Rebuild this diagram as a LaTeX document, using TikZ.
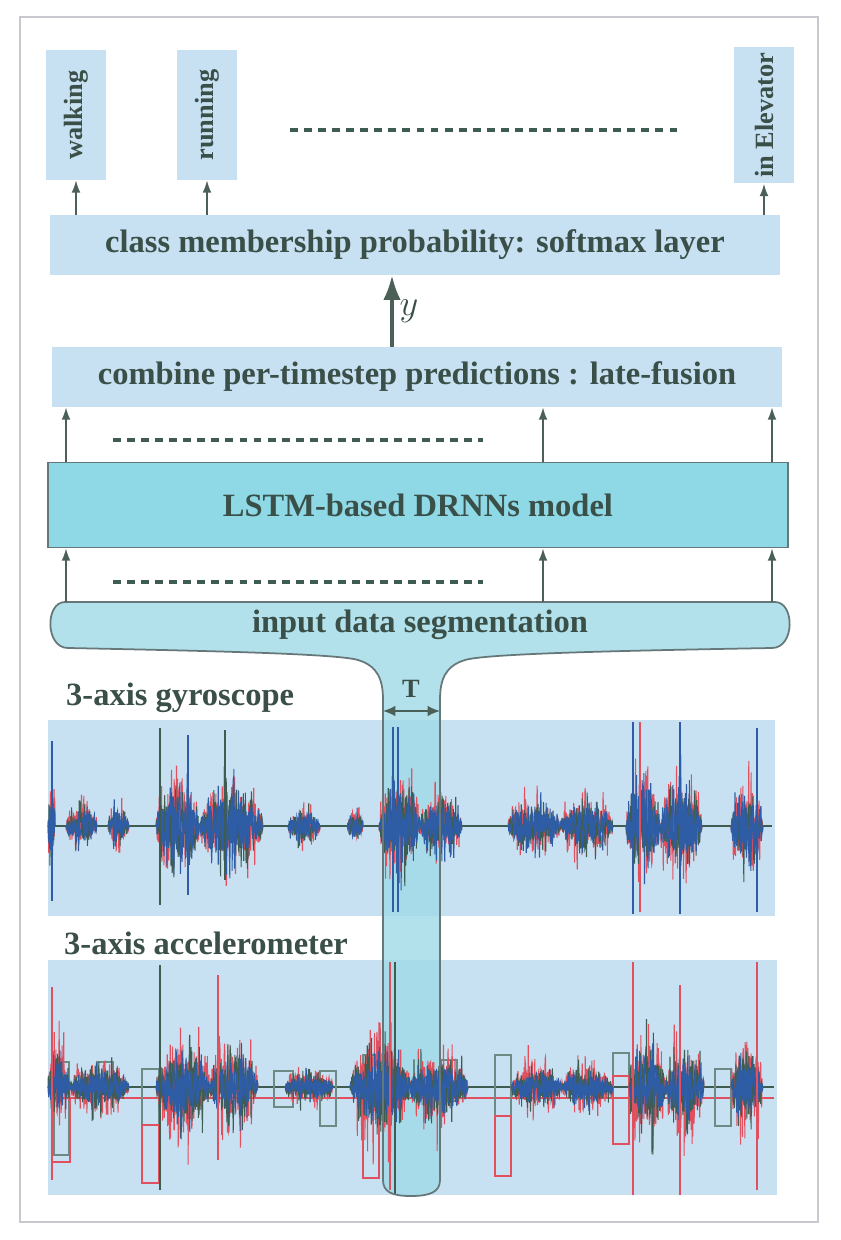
\documentclass[tikz,border=0pt]{standalone}
\usepackage{fontspec}
\setmainfont{Liberation Serif}
\usetikzlibrary{arrows.meta}

\definecolor{boxfill}{HTML}{C8E1F2}
\definecolor{lstmfill}{HTML}{8FD9E7}
\definecolor{segfill}{HTML}{9FDAE7}
\definecolor{edgec}{HTML}{66777A}
\definecolor{arrc}{HTML}{4B6158}
\definecolor{txtc}{HTML}{3A4F48}
\definecolor{sigred}{HTML}{E0505E}
\definecolor{sigblu}{HTML}{2E5DA6}
\definecolor{siggrn}{HTML}{3F5C50}
\definecolor{stepc}{HTML}{6E8A85}
\definecolor{framec}{HTML}{C8C8CE}

% one noisy burst: x0, x1, amplitude, baseline, colour
\newcommand{\burst}[5]{%
  \pgfmathtruncatemacro{\nsmp}{3*(#2-#1)+2}%
  \draw[#5, line width=0.6pt] plot[domain=#1:#2, samples=\nsmp]
    (\x, {#4 + #3*rand*(0.3+0.7*rnd*rnd)*sqrt(sin(((\x-#1)/(#2-#1))*180))});
}
% outline of the segmentation funnel
\newcommand{\segpath}{(65,602) -- (775,602) .. controls (795,602) and (795,648) .. (772,648)
  .. controls (600,651) and (485,654) .. (465,660)
  .. controls (445,666) and (440,680) .. (440,700) -- (440,1180)
  .. controls (440,1192) and (430,1196) .. (411,1196)
  .. controls (392,1196) and (383,1192) .. (383,1180) -- (383,700)
  .. controls (383,680) and (378,666) .. (358,660)
  .. controls (338,654) and (220,651) .. (68,648)
  .. controls (45,648) and (45,602) .. (65,602) -- cycle}

\begin{document}
\begin{tikzpicture}[x=0.02cm, y=-0.02cm,
  lab/.style={rectangle, fill=boxfill, minimum width=2.6cm, minimum height=1.2cm,
              rotate=90, text=txtc, font=\fontsize{15}{17}\selectfont\bfseries},
  layer/.style={rectangle, fill=boxfill, minimum width=14.6cm, minimum height=1.2cm,
                text=txtc, font=\fontsize{18.5}{22}\selectfont\bfseries},
  model/.style={rectangle, draw=edgec, line width=1pt, fill=lstmfill, minimum width=14.8cm,
                minimum height=1.7cm, text=txtc, font=\fontsize{18.5}{22}\selectfont\bfseries},
  title/.style={anchor=west, text=txtc, font=\fontsize{18.5}{22}\selectfont\bfseries},
  arr/.style={-{Latex[length=7pt,width=5pt]}, draw=arrc, fill=arrc, line width=0.9pt},
  bigarr/.style={-{Latex[length=14pt,width=10pt]}, draw=arrc, fill=arrc, line width=2pt},
  dots/.style={draw=siggrn, line width=2pt, dash pattern=on 4.5pt off 3.5pt}
]
\useasboundingbox (0,0) rectangle (840,1240);
\pgfmathsetseed{11}

% outer frame
\draw[framec, line width=1.2pt] (20,17) rectangle (818,1222);

% Output classes
\node[lab] (walk) at (76,115) {walking};
\node[lab] (run) at (207,115) {running};
\node[lab] (elev) at (764,115) {in Elevator};
\draw[dots] (290,130) -- (683,130);

% Layers
\node[layer] (smax) at (415,245) {class membership probability: softmax layer};
\node[layer] (fuse) at (417,377) {combine per-timestep predictions : late-fusion};
\node[model] (lstm) at (418,505) {LSTM-based DRNNs model};

% Sensor panels
\fill[boxfill] (48,720) rectangle (775,916);
\fill[boxfill] (48,960) rectangle (777,1195);
\node[title] (gyro) at (60,698) {3-axis gyroscope};
\node[title] (acc) at (58,943) {3-axis accelerometer};

% funnel fill under the traces
\fill[segfill, fill opacity=0.8] \segpath;

% gyroscope traces
\draw[siggrn, line width=0.6pt] (50,826) -- (772,826);
\foreach \a/\b/\h in {48/55/85, 66/97/45, 108/129/40, 156/200/100, 200/263/90,
                      288/320/35, 347/363/35, 379/420/95, 420/462/65,
                      508/560/55, 560/613/55, 626/660/100, 660/702/95, 731/763/90} {
  \burst{\a}{\b}{\h}{826}{sigred}
  \burst{\a}{\b}{0.8*\h}{826}{siggrn}
  \burst{\a}{\b}{0.85*\h}{826}{sigblu}
}
\foreach \s/\p/\q/\c in {52/741/901/sigblu, 160/728/905/siggrn, 188/735/895/sigblu,
                         225/730/880/siggrn, 393/727/912/sigblu, 398/727/912/sigblu,
                         633/722/914/sigblu, 640/722/912/sigred, 680/722/914/sigblu,
                         757/728/912/sigblu}
  \draw[\c, line width=0.6pt] (\s,\p) -- (\s,\q);

% accelerometer traces
\draw[siggrn, line width=0.8pt] (50,1087) -- (774,1087);
\draw[sigred, line width=0.8pt] (50,1098) -- (774,1098);
\foreach \a/\b/\t/\u in {54/69/1062/1155, 97/113/1062/1090, 142/159/1069/1125,
                         274/293/1071/1107, 320/336/1071/1126, 363/379/1055/1101,
                         441/457/1060/1101, 495/511/1055/1116, 613/629/1053/1076,
                         715/731/1069/1126}
  \draw[stepc, line width=1pt] (\a,\t) rectangle (\b,\u);
\foreach \a/\b/\t/\u in {52/70/1098/1162, 142/159/1125/1183, 363/379/1101/1178,
                         495/511/1116/1176, 613/629/1076/1144}
  \draw[sigred, line width=0.8pt] (\a,\t) rectangle (\b,\u);
\foreach \a/\b/\h in {48/70/95, 70/129/55, 156/210/105, 210/258/95, 285/333/40,
                      350/410/110, 410/468/85, 511/562/50, 562/613/50, 629/665/110,
                      665/704/100, 731/763/100} {
  \burst{\a}{\b}{\h}{1087}{sigred}
  \burst{\a}{\b}{0.75*\h}{1087}{siggrn}
  \burst{\a}{\b}{0.6*\h}{1087}{sigblu}
}
\foreach \s/\p/\q/\c in {52/987/1180/sigred, 160/965/1190/siggrn, 218/975/1160/sigred,
                         390/962/1190/sigred, 395/962/1195/siggrn, 633/962/1195/sigred,
                         680/985/1195/sigred, 757/962/1190/sigred}
  \draw[\c, line width=0.6pt] (\s,\p) -- (\s,\q);

% funnel outline over the traces
\draw[edgec, line width=1pt] \segpath;
\node[minimum width=14.8cm, minimum height=0.92cm, text=txtc,
      font=\fontsize{18.5}{22}\selectfont\bfseries] (seg) at (420,625) {input data segmentation};

% window width
\node[text=txtc, font=\fontsize{15}{17}\selectfont\bfseries] (tlab) at (411,689) {T};
\coordinate (tl) at (383,711);
\coordinate (tr) at (440,711);
\draw[{Latex[length=7pt,width=6pt]}-{Latex[length=7pt,width=6pt]}, draw=arrc, fill=arrc, line width=1pt] (tl) -- (tr);

% columns of the connectors
\coordinate (colA) at (66,0);
\coordinate (colB) at (543,0);
\coordinate (colC) at (772,0);
\coordinate (colY) at (392,0);

% Arrows
\draw[arr] (seg.north -| colA) -- (lstm.south -| colA);
\draw[arr] (seg.north -| colB) -- (lstm.south -| colB);
\draw[arr] (seg.north -| colC) -- (lstm.south -| colC);
\draw[dots] (113,582) -- (483,582);
\draw[arr] (lstm.north -| colA) -- (fuse.south -| colA);
\draw[arr] (lstm.north -| colB) -- (fuse.south -| colB);
\draw[arr] (lstm.north -| colC) -- (fuse.south -| colC);
\draw[dots] (113,440) -- (483,440);
\draw[bigarr] (fuse.north -| colY) -- node[right, text=txtc, font=\fontsize{20}{22}\selectfont] {$y$} (smax.south -| colY);
\draw[arr] (smax.north -| walk) -- (walk.west);
\draw[arr] (smax.north -| run) -- (run.west);
\draw[arr] (smax.north -| elev) -- (elev.west);

\end{tikzpicture}
\end{document}
